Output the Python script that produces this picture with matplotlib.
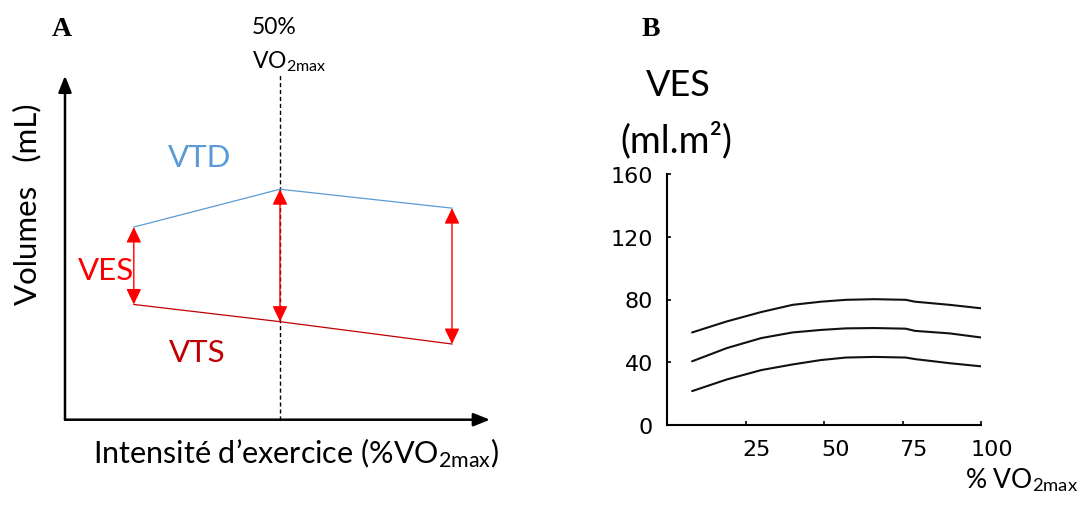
import matplotlib
matplotlib.use("Agg")
import matplotlib.pyplot as plt
import numpy as np
from matplotlib.transforms import ScaledTranslation

# ---------------- data ----------------
# Panel A (schematic): intensity (%VO2max) and volumes (arbitrary units)
intensity_a = [16, 50, 90]
vtd = [56, 67, 61.5]
vts = [33.5, 28.5, 22]
threshold_a = 50

# Panel B: VES (ml.m2) vs %VO2max, three curves
pct_vo2 = [8, 19, 30, 40, 49, 57, 66, 76, 79, 90, 100]
ves_high = [59, 66, 72, 76.6, 78.6, 79.8, 80.2, 79.8, 78.6, 76.6, 74.4]
ves_mid = [40.6, 49, 55.4, 59, 60.6, 61.6, 61.8, 61.4, 60, 58.4, 55.8]
ves_low = [21.6, 29, 35, 38.6, 41.4, 43, 43.4, 43, 42, 39.4, 37.4]
b_xticks = [25, 50, 75, 100]
b_yticks = [0, 40, 80, 120, 160]

# ---------------- style ----------------
plt.rcParams['font.family'] = ['Lato', 'DejaVu Sans']
plt.rcParams['mathtext.fontset'] = 'custom'
plt.rcParams['mathtext.rm'] = 'Lato'
plt.rcParams['mathtext.it'] = 'Lato:italic'
plt.rcParams['mathtext.bf'] = 'Lato:bold'

W, H = 1086, 506
fig = plt.figure(figsize=(W / 100, H / 100), dpi=100)


def fx(x):
    return x / W


def fy(y):
    return 1 - y / H


BLUE = '#5B9BD5'
DRED = '#C00000'
RED = '#FF0000'

# ---------------- Panel A ----------------
axA = fig.add_axes([fx(65), fy(420.7), (490 - 65) / W, (420.7 - 76.7) / H])
axA.set_xlim(0, 425 / 4.3)
axA.set_ylim(0, 100)
axA.axis('off')

arrow_kw = dict(arrowstyle='-|>,head_length=0.55,head_width=0.22', lw=1.8, color='black',
                mutation_scale=18, shrinkA=0, shrinkB=0)
axA.annotate('', xy=(1, 0), xytext=(0, 0), xycoords='axes fraction',
             textcoords='axes fraction', arrowprops=arrow_kw, annotation_clip=False)
axA.annotate('', xy=(0, 1), xytext=(0, 0), xycoords='axes fraction',
             textcoords='axes fraction', arrowprops=arrow_kw, annotation_clip=False)

# dashed threshold line
axA.plot([threshold_a, threshold_a], [0, 100.5], color='black', lw=1.0,
         ls=(0, (3, 2)), clip_on=False)

axA.plot(intensity_a, vtd, color=BLUE, lw=0.9, clip_on=False)
axA.plot(intensity_a, vts, color=DRED, lw=0.9, clip_on=False)

red_kw = dict(arrowstyle='<|-|>,head_length=0.5,head_width=0.24', lw=1.0, color=RED,
              mutation_scale=19, shrinkA=0, shrinkB=0)
for xi, top, bot in zip(intensity_a, vtd, vts):
    axA.annotate('', xy=(xi, top), xytext=(xi, bot), arrowprops=red_kw)

fig.text(fx(200), fy(158), 'VTD', color=BLUE, fontsize=22.5, ha='center', va='center')
fig.text(fx(106), fy(271), 'VES', color=RED, fontsize=22.5, ha='center', va='center')
fig.text(fx(197), fy(353), 'VTS', color=DRED, fontsize=22.5, ha='center', va='center')

fig.text(fx(27), fy(204), 'Volumes   (mL)', fontsize=22.5, rotation=90,
         ha='center', va='center')
fig.text(fx(93), fy(463), r'Intensité d’exercice (%VO$_{\mathrm{2max}}$)',
         fontsize=22, ha='left', va='baseline')

fig.text(fx(274.5), fy(27), '50%', fontsize=16.5, ha='center', va='center')
fig.text(fx(252), fy(68), r'VO$_{\mathrm{2max}}$', fontsize=16.5, ha='left', va='baseline')

fig.text(fx(62), fy(29), 'A', fontsize=20, fontweight='bold',
         family='Liberation Serif', ha='center', va='center')

# ---------------- Panel B ----------------
axB = fig.add_axes([fx(667), fy(426), (981 - 667) / W, (426 - 175) / H])
axB.set_xlim(0, 100)
axB.set_ylim(0, 160)
for s in ('top', 'right'):
    axB.spines[s].set_visible(False)
for s in ('left', 'bottom'):
    axB.spines[s].set_linewidth(1.5)
    axB.spines[s].set_color('black')

for series in (ves_high, ves_mid, ves_low):
    axB.plot(pct_vo2, series, color='#111111', lw=1.5, solid_capstyle='round')

axB.set_xticks(b_xticks)
axB.set_xticklabels([str(t) for t in b_xticks])
axB.set_yticks(b_yticks)
axB.set_yticklabels([str(t) for t in b_yticks])
axB.tick_params(axis='both', direction='in', length=3, width=1.2,
                labelsize=16, colors='black')
axB.tick_params(axis='x', pad=10)
axB.tick_params(axis='y', pad=10)
for lab in axB.get_xticklabels():
    lab.set_family('DejaVu Sans')
    lab.set_transform(lab.get_transform() + ScaledTranslation(8 / 72, 0, fig.dpi_scale_trans))
for lab in axB.get_yticklabels():
    lab.set_family('DejaVu Sans')

fig.text(fx(678), fy(85), 'VES', fontsize=26, ha='center', va='center')
fig.text(fx(676), fy(140), '(ml.m²)', fontsize=27, ha='center', va='center')
fig.text(fx(965), fy(488), r'% VO$_{\mathrm{2max}}$', fontsize=19, ha='left', va='baseline')

fig.text(fx(651), fy(29), 'B', fontsize=20, fontweight='bold',
         family='Liberation Serif', ha='center', va='center')

fig.savefig('out.png', dpi=100, facecolor='white')
